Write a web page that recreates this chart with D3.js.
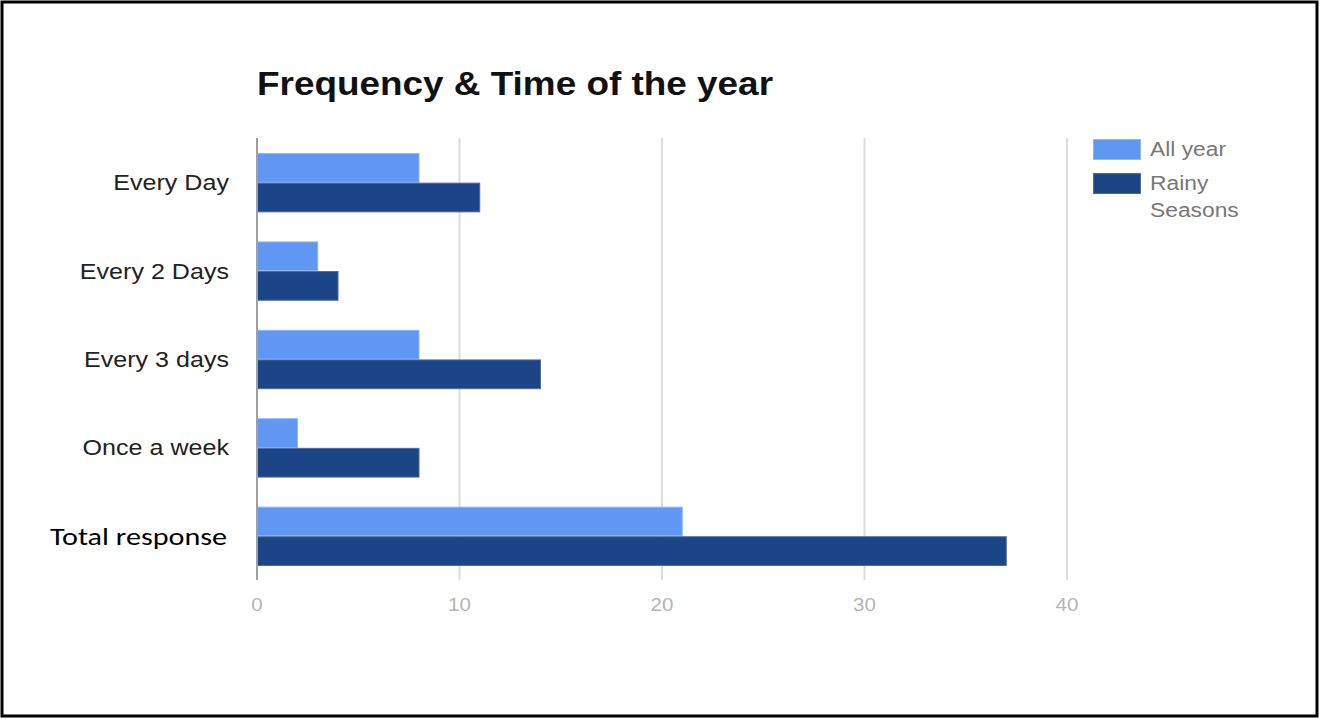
<!DOCTYPE html>
<html>
<head>
<meta charset="utf-8">
<script src="https://cdn.jsdelivr.net/npm/d3@7"></script>
<style>
  html, body { margin: 0; padding: 0; background: #fff; }
  svg { display: block; }
</style>
</head>
<body>
<svg id="chart" width="1320" height="719"></svg>
<script>
// Response counts by watering frequency
const categories = ["Every Day", "Every 2 Days", "Every 3 days", "Once a week", "Total response"];
const allYear = [8, 3, 8, 2, 21];
const rainySeasons = [11, 4, 14, 8, 37];
const seriesNames = ["All year", "Rainy Seasons"];
const xTicks = [0, 10, 20, 30, 40];

const colors = { "All year": "#5f97f3", "Rainy Seasons": "#1c4587" };
const strokes = { "All year": "#8fb6f7", "Rainy Seasons": "#4a6ba3" };

const SANS = "'Liberation Sans', Arial, sans-serif";
const CALIBRI = "Carlito, Lato, sans-serif";
const WIDEN = 1.14; // text is set slightly wide

// Stretch a text element horizontally by a factor (or to a fixed width)
function widen(sel, factor, fixed) {
  sel.each(function () {
    const w = fixed || this.getComputedTextLength() * factor;
    d3.select(this).attr("textLength", w).attr("lengthAdjust", "spacingAndGlyphs");
  });
}

const svg = d3.select("#chart");

// Outer frame
svg.append("rect")
  .attr("x", 2).attr("y", 2).attr("width", 1315).attr("height", 714)
  .attr("fill", "#fff").attr("stroke", "#000").attr("stroke-width", 3);

const plot = { left: 257, right: 1067, top: 138, bottom: 580 };

const x = d3.scaleLinear().domain([0, 40]).range([plot.left, plot.right]);
const y = d3.scaleBand().domain(categories).range([plot.top, plot.bottom]).paddingInner(0.34).paddingOuter(0.17);
const sub = d3.scaleBand().domain(seriesNames).range([0, y.bandwidth()]).paddingInner(0.03);

// Title
svg.append("text")
  .attr("x", 257).attr("y", 95)
  .style("font-family", SANS).style("font-weight", "bold").style("font-size", "33px")
  .attr("fill", "#111")
  .text("Frequency & Time of the year")
  .call(widen, 1, 516);

// Vertical gridlines
svg.append("g").selectAll("line")
  .data(xTicks.filter(d => d > 0))
  .join("line")
  .attr("x1", d => x(d)).attr("x2", d => x(d))
  .attr("y1", plot.top).attr("y2", plot.bottom)
  .attr("stroke", "#dcdcdc").attr("stroke-width", 2);

// Bars
const rows = categories.map((c, i) => ({ cat: c, values: [
  { name: "All year", v: allYear[i] },
  { name: "Rainy Seasons", v: rainySeasons[i] }
]}));

const groups = svg.append("g").selectAll("g")
  .data(rows)
  .join("g")
  .attr("transform", d => `translate(0,${y(d.cat)})`);

groups.selectAll("rect")
  .data(d => d.values)
  .join("rect")
  .attr("x", x(0))
  .attr("y", d => sub(d.name) + 0.5)
  .attr("width", d => x(d.v) - x(0))
  .attr("height", sub.bandwidth())
  .attr("fill", d => colors[d.name])
  .attr("stroke", d => strokes[d.name])
  .attr("stroke-width", 1);

// Baseline axis line
svg.append("line")
  .attr("x1", x(0)).attr("x2", x(0))
  .attr("y1", plot.top).attr("y2", plot.bottom)
  .attr("stroke", "#a0a0a0").attr("stroke-width", 2);

// X tick labels
svg.append("g").selectAll("text")
  .data(xTicks)
  .join("text")
  .attr("x", d => x(d)).attr("y", 611)
  .attr("text-anchor", "middle")
  .style("font-family", SANS).style("font-size", "18px")
  .attr("fill", "#b4b4b4")
  .text(d => d3.format("d")(d))
  .call(widen, WIDEN);

// Category labels
const catLabels = svg.append("g").selectAll("text")
  .data(categories)
  .join("text")
  .attr("x", d => d === "Total response" ? 227 : 229)
  .attr("y", d => y(d) + y.bandwidth() / 2 + (d === "Total response" ? 9 : 8))
  .attr("text-anchor", "end")
  .style("font-family", d => d === "Total response" ? CALIBRI : SANS)
  .style("font-size", d => d === "Total response" ? "24px" : "22px")
  .attr("fill", d => d === "Total response" ? "#000" : "#222")
  .text(d => d);
catLabels.filter(d => d !== "Total response").call(widen, WIDEN);
catLabels.filter(d => d === "Total response").call(widen, 1, 177);

// Legend
const legend = svg.append("g");
const legendRows = [
  { name: "All year", lines: ["All year"], y: 139 },
  { name: "Rainy Seasons", lines: ["Rainy", "Seasons"], y: 173 }
];
legendRows.forEach(r => {
  legend.append("rect")
    .attr("x", 1093.5).attr("y", r.y + 0.5).attr("width", 47).attr("height", 20)
    .attr("fill", colors[r.name]).attr("stroke", strokes[r.name]).attr("stroke-width", 1);
  r.lines.forEach((t, j) => {
    legend.append("text")
      .attr("x", 1150).attr("y", r.y + 17 + j * 27)
      .style("font-family", SANS).style("font-size", "20px")
      .attr("fill", "#777")
      .text(t)
      .call(widen, WIDEN);
  });
});
</script>
</body>
</html>
